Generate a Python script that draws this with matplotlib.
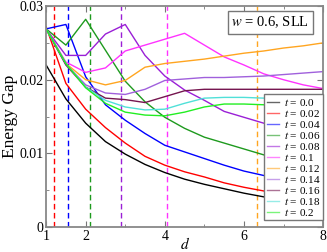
import matplotlib
matplotlib.use("Agg")
import matplotlib.pyplot as plt
from matplotlib.ticker import FixedLocator

plt.rcParams['font.family'] = ['Liberation Serif', 'DejaVu Serif']
plt.rcParams['mathtext.fontset'] = 'stix'

# sampled distances
d = [1, 1.5, 2, 2.5, 3, 3.5, 4, 4.5, 5, 5.5, 6, 6.5, 7, 7.5, 8]

gap_t000 = [0.0220, 0.0174, 0.0141, 0.0116, 0.0099, 0.0085, 0.0074, 0.0065, 0.0058, 0.0052, 0.0046, 0.0041, 0.0037, 0.0034, 0.0031]
gap_t002 = [0.0272, 0.0195, 0.0160, 0.0135, 0.0114, 0.0096, 0.0084, 0.0075, 0.0068, 0.0060, 0.0054, 0.0049, 0.0045, 0.0041, 0.0037]
gap_t004 = [0.0269, 0.0275, 0.0204, 0.0166, 0.0145, 0.0127, 0.0111, 0.0102, 0.0093, 0.0084, 0.0076, 0.0070, 0.0064, 0.0058, 0.0053]
gap_t006 = [0.0269, 0.0247, 0.0282, 0.0240, 0.0198, 0.0170, 0.0149, 0.0134, 0.0122, 0.0114, 0.0106, 0.0098, 0.0092, 0.0086, 0.0080]
gap_t008 = [0.0269, 0.0233, 0.0233, 0.0262, 0.0275, 0.0233, 0.0205, 0.0186, 0.0172, 0.0157, 0.0149, 0.0141, 0.0134, 0.0127, 0.0121]
gap_t010 = [0.0269, 0.0224, 0.0210, 0.0216, 0.0239, 0.0247, 0.0255, 0.0263, 0.0247, 0.0231, 0.0220, 0.0208, 0.0200, 0.0193, 0.0188]
gap_t012 = [0.0269, 0.0222, 0.0200, 0.0193, 0.0199, 0.0217, 0.0222, 0.0225, 0.0228, 0.0232, 0.0236, 0.0239, 0.0243, 0.0246, 0.0250]
gap_t014 = [0.0269, 0.0221, 0.0193, 0.0182, 0.0180, 0.0187, 0.0199, 0.0201, 0.0203, 0.0203, 0.0204, 0.0205, 0.0207, 0.0209, 0.0211]
gap_t016 = [0.0269, 0.0220, 0.0190, 0.0175, 0.0173, 0.0169, 0.0177, 0.0185, 0.0187, 0.0187, 0.0187, 0.0187, 0.0187, 0.0187, 0.0187]
gap_t018 = [0.0269, 0.0222, 0.0190, 0.0172, 0.0163, 0.0159, 0.0160, 0.0168, 0.0175, 0.0176, 0.0176, 0.0175, 0.0175, 0.0174, 0.0174]
gap_t020 = [0.0269, 0.0222, 0.0189, 0.0168, 0.0156, 0.0152, 0.0151, 0.0156, 0.0163, 0.0167, 0.0167, 0.0166, 0.0166, 0.0166, 0.0166]

t_labels = ["0.0", "0.02", "0.04", "0.06", "0.08", "0.1", "0.12", "0.14", "0.16", "0.18", "0.2"]
gaps = [gap_t000, gap_t002, gap_t004, gap_t006, gap_t008, gap_t010,
        gap_t012, gap_t014, gap_t016, gap_t018, gap_t020]
colors = ["black", "red", "blue", "#1e9a1e", "#9a1fd6", "#ff33ff",
          "#ffa520", "#a060dc", "#75154f", "#50e0d8", "#22ee22"]

# critical distances (dashed markers)
d_crit = [1.2, 1.565, 2.115, 2.89, 4.05, 6.33]
d_crit_colors = ["red", "blue", "#1e9a1e", "#9a1fd6", "#ff33ff", "#ffa520"]

y_ticks = [0, 0.01, 0.02, 0.03]
y_ticklabels = ["0", "0.01", "0.02", "0.03"]
x_ticks = [1, 2, 4, 6, 8]

fig = plt.figure(figsize=(3.27, 2.52), dpi=100)
ax = fig.add_axes([0.141, 0.099, 0.847, 0.877])

for xc, c in zip(d_crit, d_crit_colors):
    ax.axvline(xc, color=c, lw=1.0, ls=(0, (4, 2.5)))

for g, lab, c in zip(gaps, t_labels, colors):
    ax.plot(d, g, color=c, lw=1.0, label=r"$t$ = " + lab)

ax.set_xlim(1, 8)
ax.set_ylim(0, 0.03)
ax.set_xticks(x_ticks)
ax.xaxis.set_minor_locator(FixedLocator([3, 5, 7]))
ax.set_yticks(y_ticks, y_ticklabels)
ax.yaxis.set_minor_locator(FixedLocator([0.005, 0.015, 0.025]))
ax.tick_params(which='both', direction='in', top=True, right=True,
               labelsize=10, color='#777777', pad=2)
ax.tick_params(which='major', length=4)
ax.tick_params(which='minor', length=2)
for s in ax.spines.values():
    s.set_color('#888888')
    s.set_linewidth(1.3)

ax.set_xlabel(r"$d$", fontsize=11, labelpad=-5)
ax.set_ylabel("Energy Gap", fontsize=12.5, labelpad=1)

ax.text(0.81, 0.925, r"$w$ = 0.6, SLL", transform=ax.transAxes, fontsize=10.5,
        ha='center', va='center',
        bbox=dict(boxstyle='square,pad=0.25', fc='white', ec='#777777', lw=1))

leg = ax.legend(loc='lower right', bbox_to_anchor=(1.0, 0.03), fontsize=8.1,
                labelspacing=0.0, handlelength=1.1, handletextpad=0.4,
                borderpad=0.25, borderaxespad=0, fancybox=False,
                edgecolor='#777777', framealpha=1)
leg.get_frame().set_linewidth(1.0)
for h in leg.get_lines():
    h.set_alpha(0.6)

plt.savefig('out.png', dpi=100)
